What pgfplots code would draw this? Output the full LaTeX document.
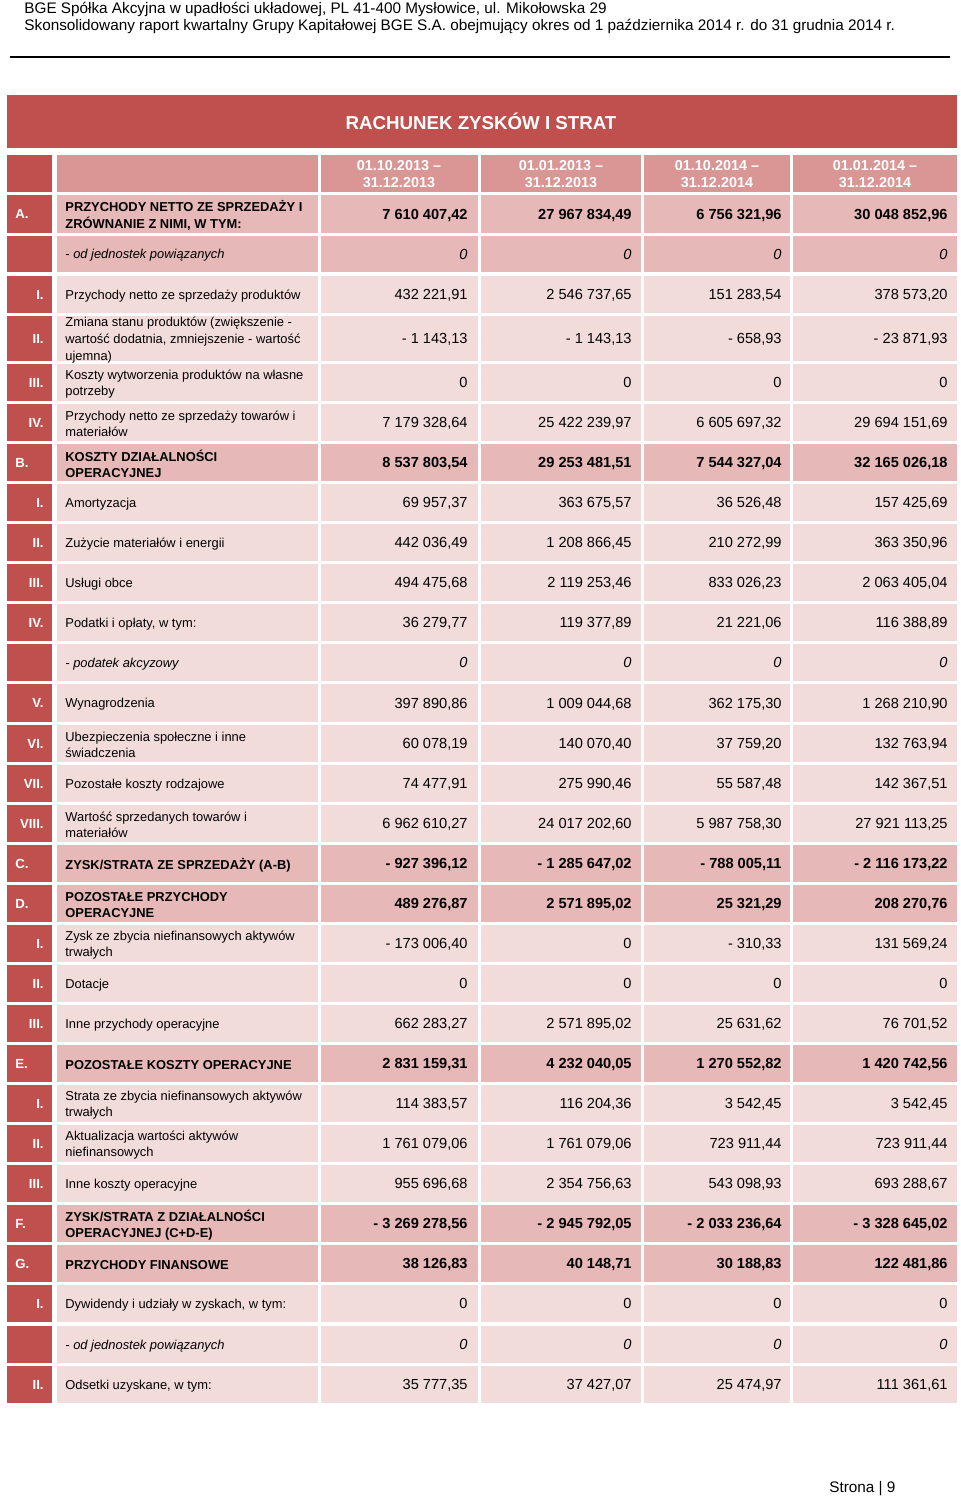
\documentclass[border=0pt]{standalone}
\usepackage{fontspec}
\setmainfont{Liberation Sans}
\usepackage{pgfplots}
\pgfplotsset{compat=1.18}
\definecolor{cred}{HTML}{C0504D}
\definecolor{chead}{HTML}{D99694}
\definecolor{cmid}{HTML}{E6B8B7}
\definecolor{clight}{HTML}{F2DCDB}
\tikzset{
 fillb/.style={fill=cmid}, filln/.style={fill=clight}, filli/.style={fill=cmid}, fillj/.style={fill=clight},
 dtb/.style={inner sep=0pt,font=\fontsize{6.45}{8.3}\selectfont\bfseries},
 dtn/.style={inner sep=0pt,font=\fontsize{6.45}{8.3}\selectfont},
 dti/.style={inner sep=0pt,font=\fontsize{6.45}{8.3}\selectfont\itshape},
 dtj/.style={inner sep=0pt,font=\fontsize{6.45}{8.3}\selectfont\itshape},
 vtb/.style={inner sep=0pt,font=\fontsize{7.3}{9}\selectfont\bfseries},
 vtn/.style={inner sep=0pt,font=\fontsize{7.3}{9}\selectfont},
 vti/.style={inner sep=0pt,font=\fontsize{7.3}{9}\selectfont\itshape},
 vtj/.style={inner sep=0pt,font=\fontsize{7.3}{9}\selectfont\itshape},
 lab/.style={inner sep=0pt,text=white,font=\fontsize{6.6}{8}\selectfont\bfseries},
}
% #1 top #2 bottom #3 type #4 label x #5 label anchor #6 label #7 description
\newcommand{\R}[7]{%
 \fill[cred] (axis cs:7,#1) rectangle (axis cs:52,#2);
 \fill[fill#3] (axis cs:57,#1) rectangle (axis cs:318,#2);
 \fill[fill#3] (axis cs:321,#1) rectangle (axis cs:478,#2);
 \fill[fill#3] (axis cs:481,#1) rectangle (axis cs:641,#2);
 \fill[fill#3] (axis cs:644,#1) rectangle (axis cs:790,#2);
 \fill[fill#3] (axis cs:793,#1) rectangle (axis cs:957,#2);
 \node[lab,anchor=#5] at (axis cs:#4,{(#1+#2)/2}) {#6};
 \node[dt#3,anchor=west,align=left] at (axis cs:65,{(#1+#2)/2+1.5}) {#7};
}
% #1 top #2 bottom #3 type #4..#7 values
\newcommand{\V}[7]{%
 \node[vt#3,anchor=base east] at (axis cs:468,{(#1+#2)/2+5.3}) {#4};
 \node[vt#3,anchor=base east] at (axis cs:632,{(#1+#2)/2+5.3}) {#5};
 \node[vt#3,anchor=base east] at (axis cs:782,{(#1+#2)/2+5.3}) {#6};
 \node[vt#3,anchor=base east] at (axis cs:948,{(#1+#2)/2+5.3}) {#7};
}
\begin{document}
\begin{tikzpicture}
\begin{axis}[width=480pt,height=749pt,scale only axis,xmin=0,xmax=960,ymin=0,ymax=1498,
 y dir=reverse,hide axis,clip=false]
\fill[white] (axis cs:0,0) rectangle (axis cs:960,1498);
% page header
\node[inner sep=0pt,anchor=base west,font=\fontsize{7.65}{8}\selectfont] at (axis cs:24,13.5) {BGE Spółka Akcyjna w upadłości układowej, PL 41-400 Mysłowice, ul. Mikołowska 29};
\node[inner sep=0pt,anchor=base west,font=\fontsize{7.65}{8}\selectfont] at (axis cs:24,30.5) {Skonsolidowany raport kwartalny Grupy Kapitałowej BGE S.A. obejmujący okres od 1 października 2014 r. do 31 grudnia 2014 r.};
\draw[black,line width=0.6pt] (axis cs:10,57) -- (axis cs:950,57);
% title
\fill[cred] (axis cs:7,95) rectangle (axis cs:957,148);
\node[inner sep=0pt,text=white,font=\fontsize{9.35}{10}\selectfont\bfseries] at (axis cs:481,121) {RACHUNEK ZYSKÓW I STRAT};
% column header
\fill[cred] (axis cs:7,155) rectangle (axis cs:52,192);
\fill[chead] (axis cs:57,155) rectangle (axis cs:318,192);
\fill[chead] (axis cs:321,155) rectangle (axis cs:478,192);
\fill[chead] (axis cs:481,155) rectangle (axis cs:641,192);
\fill[chead] (axis cs:644,155) rectangle (axis cs:790,192);
\fill[chead] (axis cs:793,155) rectangle (axis cs:957,192);
\node[inner sep=0pt,text=white,align=center,font=\fontsize{7.2}{8.5}\selectfont\bfseries] at (axis cs:399,174) {01.10.2013 –\\31.12.2013};
\node[inner sep=0pt,text=white,align=center,font=\fontsize{7.2}{8.5}\selectfont\bfseries] at (axis cs:561,174) {01.01.2013 –\\31.12.2013};
\node[inner sep=0pt,text=white,align=center,font=\fontsize{7.2}{8.5}\selectfont\bfseries] at (axis cs:717,174) {01.10.2014 –\\31.12.2014};
\node[inner sep=0pt,text=white,align=center,font=\fontsize{7.2}{8.5}\selectfont\bfseries] at (axis cs:875,174) {01.01.2014 –\\31.12.2014};
% rows
\R{195}{233}{b}{15}{west}{A.}{PRZYCHODY NETTO ZE SPRZEDAŻY I\\ZRÓWNANIE Z NIMI, W TYM:}
\V{195}{233}{b}{7 610 407,42}{27 967 834,49}{6 756 321,96}{30 048 852,96}
\R{236}{272}{i}{15}{west}{}{- od jednostek powiązanych}
\V{236}{272}{i}{0}{0}{0}{0}
\R{276}{313}{n}{44}{east}{I.}{Przychody netto ze sprzedaży produktów}
\V{276}{313}{n}{432 221,91}{2 546 737,65}{151 283,54}{378 573,20}
\R{316}{361}{n}{44}{east}{II.}{Zmiana stanu produktów (zwiększenie -\\wartość dodatnia, zmniejszenie - wartość\\ujemna)}
\V{316}{361}{n}{- 1 143,13}{- 1 143,13}{- 658,93}{- 23 871,93}
\R{364}{401}{n}{44}{east}{III.}{Koszty wytworzenia produktów na własne\\potrzeby}
\V{364}{401}{n}{0}{0}{0}{0}
\R{404}{441}{n}{44}{east}{IV.}{Przychody netto ze sprzedaży towarów i\\materiałów}
\V{404}{441}{n}{7 179 328,64}{25 422 239,97}{6 605 697,32}{29 694 151,69}
\R{444}{481}{b}{15}{west}{B.}{KOSZTY DZIAŁALNOŚCI\\OPERACYJNEJ}
\V{444}{481}{b}{8 537 803,54}{29 253 481,51}{7 544 327,04}{32 165 026,18}
\R{484}{521}{n}{44}{east}{I.}{Amortyzacja}
\V{484}{521}{n}{69 957,37}{363 675,57}{36 526,48}{157 425,69}
\R{524}{561}{n}{44}{east}{II.}{Zużycie materiałów i energii}
\V{524}{561}{n}{442 036,49}{1 208 866,45}{210 272,99}{363 350,96}
\R{564}{601}{n}{44}{east}{III.}{Usługi obce}
\V{564}{601}{n}{494 475,68}{2 119 253,46}{833 026,23}{2 063 405,04}
\R{604}{641}{n}{44}{east}{IV.}{Podatki i opłaty, w tym:}
\V{604}{641}{n}{36 279,77}{119 377,89}{21 221,06}{116 388,89}
\R{644}{681}{j}{15}{west}{}{- podatek akcyzowy}
\V{644}{681}{j}{0}{0}{0}{0}
\R{684}{722}{n}{44}{east}{V.}{Wynagrodzenia}
\V{684}{722}{n}{397 890,86}{1 009 044,68}{362 175,30}{1 268 210,90}
\R{725}{762}{n}{44}{east}{VI.}{Ubezpieczenia społeczne i inne\\świadczenia}
\V{725}{762}{n}{60 078,19}{140 070,40}{37 759,20}{132 763,94}
\R{765}{802}{n}{44}{east}{VII.}{Pozostałe koszty rodzajowe}
\V{765}{802}{n}{74 477,91}{275 990,46}{55 587,48}{142 367,51}
\R{805}{842}{n}{44}{east}{VIII.}{Wartość sprzedanych towarów i\\materiałów}
\V{805}{842}{n}{6 962 610,27}{24 017 202,60}{5 987 758,30}{27 921 113,25}
\R{845}{882}{b}{15}{west}{C.}{ZYSK/STRATA ZE SPRZEDAŻY (A-B)}
\V{845}{882}{b}{- 927 396,12}{- 1 285 647,02}{- 788 005,11}{- 2 116 173,22}
\R{885}{922}{b}{15}{west}{D.}{POZOSTAŁE PRZYCHODY\\OPERACYJNE}
\V{885}{922}{b}{489 276,87}{2 571 895,02}{25 321,29}{208 270,76}
\R{925}{962}{n}{44}{east}{I.}{Zysk ze zbycia niefinansowych aktywów\\trwałych}
\V{925}{962}{n}{- 173 006,40}{0}{- 310,33}{131 569,24}
\R{965}{1002}{n}{44}{east}{II.}{Dotacje}
\V{965}{1002}{n}{0}{0}{0}{0}
\R{1005}{1042}{n}{44}{east}{III.}{Inne przychody operacyjne}
\V{1005}{1042}{n}{662 283,27}{2 571 895,02}{25 631,62}{76 701,52}
\R{1045}{1082}{b}{15}{west}{E.}{POZOSTAŁE KOSZTY OPERACYJNE}
\V{1045}{1082}{b}{2 831 159,31}{4 232 040,05}{1 270 552,82}{1 420 742,56}
\R{1085}{1122}{n}{44}{east}{I.}{Strata ze zbycia niefinansowych aktywów\\trwałych}
\V{1085}{1122}{n}{114 383,57}{116 204,36}{3 542,45}{3 542,45}
\R{1125}{1162}{n}{44}{east}{II.}{Aktualizacja wartości aktywów\\niefinansowych}
\V{1125}{1162}{n}{1 761 079,06}{1 761 079,06}{723 911,44}{723 911,44}
\R{1165}{1202}{n}{44}{east}{III.}{Inne koszty operacyjne}
\V{1165}{1202}{n}{955 696,68}{2 354 756,63}{543 098,93}{693 288,67}
\R{1205}{1242}{b}{15}{west}{F.}{ZYSK/STRATA Z DZIAŁALNOŚCI\\OPERACYJNEJ (C+D-E)}
\V{1205}{1242}{b}{- 3 269 278,56}{- 2 945 792,05}{- 2 033 236,64}{- 3 328 645,02}
\R{1245}{1282}{b}{15}{west}{G.}{PRZYCHODY FINANSOWE}
\V{1245}{1282}{b}{38 126,83}{40 148,71}{30 188,83}{122 481,86}
\R{1285}{1322}{n}{44}{east}{I.}{Dywidendy i udziały w zyskach, w tym:}
\V{1285}{1322}{n}{0}{0}{0}{0}
\R{1326}{1363}{j}{15}{west}{}{- od jednostek powiązanych}
\V{1326}{1363}{j}{0}{0}{0}{0}
\R{1366}{1403}{n}{44}{east}{II.}{Odsetki uzyskane, w tym:}
\V{1366}{1403}{n}{35 777,35}{37 427,07}{25 474,97}{111 361,61}
% footer
\node[inner sep=0pt,anchor=base west,font=\fontsize{7.65}{8}\selectfont] at (axis cs:829,1492) {Strona | 9};
\end{axis}
\end{tikzpicture}
\end{document}
